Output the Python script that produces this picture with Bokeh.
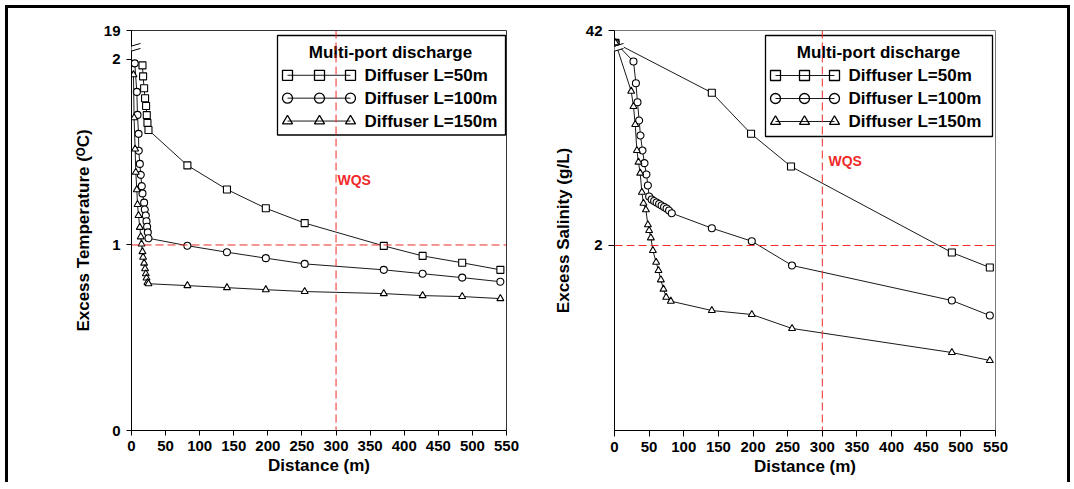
from bokeh.plotting import figure
from bokeh.layouts import row
from bokeh.models import Range1d, FixedTicker, CustomJSTickFormatter, Span, Label, Arrow
from bokeh.core.properties import value
from bokeh.embed import file_html
from bokeh.resources import INLINE

# ---------------- data: excess temperature (left) ----------------
temp_x_50 = [16.1, 17.0, 18.5, 19.9, 21.4, 22.4, 23.4, 24.9, 82, 140, 197, 254, 370, 427, 485, 541]
temp_y_50 = [1.968, 1.909, 1.845, 1.791, 1.749, 1.700, 1.658, 1.620, 1.429, 1.299, 1.198, 1.118, 0.995, 0.941, 0.904, 0.866]
temp_x_100 = [4.8, 7.8, 8.8, 10.3, 10.7, 12.2, 13.6, 15.1, 16.1, 18.5, 19.5, 21.0, 22.0, 22.9, 23.9, 24.9,
              82, 140, 197, 254, 370, 427, 485, 541]
temp_y_100 = [1.979, 1.825, 1.701, 1.599, 1.508, 1.437, 1.378, 1.317, 1.278, 1.228, 1.191, 1.159, 1.128, 1.098,
              1.068, 1.036, 0.996, 0.961, 0.929, 0.898, 0.866, 0.845, 0.824, 0.802]
temp_x_150 = [2.9, 3.8, 5.3, 6.3, 7.8, 8.8, 10.3, 12.2, 13.6, 14.7, 16.1, 17.0, 18.5, 19.9, 21.0, 22.0, 23.4, 24.9,
              82, 140, 197, 254, 370, 427, 485, 541]
temp_y_150 = [1.918, 1.686, 1.517, 1.392, 1.298, 1.218, 1.159, 1.095, 1.044, 1.005, 0.964, 0.934, 0.902, 0.872,
              0.845, 0.822, 0.798, 0.791, 0.781, 0.770, 0.759, 0.749, 0.738, 0.727, 0.722, 0.711]

# ---------------- data: excess salinity (right) ----------------
sal_x_50 = [1.5, 140.5, 197.1, 254.8, 487, 541.8]
sal_y_50 = [4.19, 3.651, 3.208, 2.854, 1.924, 1.762]
sal_x_100 = [1.5, 27.4, 30.9, 33.2, 35.6, 37.5, 40.4, 43.3, 46.1, 48.2, 50.0, 53.6, 57.2, 60.8, 64.4, 68.0,
             71.6, 75.2, 78.8, 82.7, 140.5, 198.2, 256.3, 487, 541.8]
sal_y_100 = [4.19, 3.989, 3.754, 3.549, 3.351, 3.189, 3.027, 2.890, 2.768, 2.649, 2.530, 2.497, 2.481, 2.465,
             2.449, 2.432, 2.416, 2.400, 2.378, 2.349, 2.187, 2.046, 1.784, 1.405, 1.243]
sal_x_150 = [1.5, 24.1, 27.4, 29.9, 32.3, 34.6, 37.1, 39.5, 41.8, 45.3, 48.2, 50.0, 52.5, 55.4, 60.1, 63.5,
             66.9, 70.7, 74.6, 81.3, 140.5, 198.2, 256.3, 487, 541.8]
sal_y_150 = [4.19, 3.668, 3.503, 3.308, 3.027, 2.901, 2.782, 2.576, 2.457, 2.386, 2.224, 2.162, 2.083, 1.946,
             1.819, 1.730, 1.629, 1.528, 1.441, 1.398, 1.297, 1.254, 1.103, 0.843, 0.757]

series_labels = ["Diffuser L=50m", "Diffuser L=100m", "Diffuser L=150m"]
series_markers = ["square", "circle", "triangle"]
legend_title = "Multi-port discharge"
x_ticks = [0, 50, 100, 150, 200, 250, 300, 350, 400, 450, 500, 550]
temp_ticks = [0, 1, 2]
temp_top, temp_top_label = 2.156, "19"
sal_ticks = [2]
sal_top, sal_top_label = 4.324, "42"
wqs_distance = 300
temp_wqs, sal_wqs = 1, 2

FONT = "Liberation Sans"
RED = "#ee2a2a"
LINE = "#1a1a1a"
ORIGIN = 8          # page offset of the figures (5px margin + 3px frame)
FIG_H = 474


def make_panel(width, mbl, mbr, fx0, fx1, fy0, fy1, ytop, yticks, top_label, ylabel, lstand, tick_out,
               outline, series, wqs_y, legend_px, wqs_px):
    mbt = fy0 - ORIGIN
    p = figure(width=width, height=FIG_H, output_backend="svg", toolbar_location=None,
               x_range=Range1d(0, 550), y_range=Range1d(0, ytop),
               min_border_left=mbl, min_border_right=mbr, min_border_top=mbt,
               min_border_bottom=FIG_H - mbt - (fy1 - fy0))
    p.background_fill_color = "white"
    p.border_fill_color = "white"
    p.outline_line_color = outline
    p.outline_line_width = 1
    p.xgrid.visible = False
    p.ygrid.visible = False

    # px -> data helpers (for decorations only)
    def dx(px):
        return (px - fx0) / (fx1 - fx0) * 550

    def dy(py):
        return (fy1 - py) / (fy1 - fy0) * ytop

    for ax in (p.xaxis[0], p.yaxis[0]):
        ax.axis_label_text_font = FONT
        ax.axis_label_text_font_style = "bold"
        ax.axis_label_text_font_size = "17px"
        ax.axis_label_text_color = "black"
        ax.major_label_text_font = FONT
        ax.major_label_text_font_style = "bold"
        ax.major_label_text_font_size = "15px"
        ax.major_label_text_color = "black"
        ax.major_tick_in = 0
        ax.major_tick_out = tick_out
        ax.minor_tick_line_color = None
        ax.axis_line_color = "black"
        ax.major_tick_line_color = "black"

    p.xaxis.ticker = FixedTicker(ticks=x_ticks)
    p.xaxis.axis_label = "Distance (m)"
    p.xaxis.major_label_standoff = 5
    p.xaxis.axis_label_standoff = 2

    p.yaxis.ticker = FixedTicker(ticks=yticks + [ytop])
    p.yaxis.formatter = CustomJSTickFormatter(args=dict(top=ytop, lab=top_label),
                                              code="return (Math.abs(tick - top) < 1e-6) ? lab : tick.toFixed(0);")
    p.yaxis.axis_label = ylabel
    p.yaxis.major_label_standoff = 6
    p.yaxis.axis_label_standoff = lstand

    # data series
    for (xs, ys), mk in zip(series, series_markers):
        p.line(xs, ys, line_color=LINE, line_width=1)
        p.scatter(xs, ys, marker=mk, size=7, fill_color="white", line_color="black", line_width=1.1)

    # legend box (drawn by hand so each sample shows three markers)
    lx0, lx1, ly0, ly1, mxs, tx, tcx, rows, ty = legend_px
    p.quad(left=dx(lx0), right=dx(lx1), top=dy(ly0), bottom=dy(ly1), fill_color="white",
           line_color="black", line_width=1.3)
    p.text(x=[dx(tcx)], y=[dy(ty)], text=[legend_title], text_font=value(FONT), text_font_style="bold",
           text_font_size="17px", text_align="center", text_baseline="middle", text_color="black")
    for mk, lab, ry in zip(series_markers, series_labels, rows):
        p.line([dx(mxs[0]), dx(mxs[-1])], [dy(ry), dy(ry)], line_color=LINE, line_width=1)
        p.scatter([dx(m) for m in mxs], [dy(ry)] * 3, marker=mk, size=10, fill_color=None,
                  line_color="black", line_width=1.3)
        p.text(x=[dx(tx)], y=[dy(ry)], text=[lab], text_font=value(FONT), text_font_style="bold",
               text_font_size="17px", text_align="left", text_baseline="middle", text_color="black")

    # water quality standard lines
    p.add_layout(Span(location=wqs_distance, dimension="height", line_color=RED, line_width=1,
                      line_dash="8 4"))
    p.add_layout(Span(location=wqs_y, dimension="width", line_color=RED, line_width=1, line_dash="8 4"))
    wx, wy = wqs_px
    p.add_layout(Label(x=dx(wx), y=dy(wy), text="WQS", text_font=FONT, text_font_style="bold",
                       text_font_size="14px", text_color=RED, text_baseline="middle", text_align="left"))

    # axis break marks
    bx0, bx1 = fx0 - 8, fx0 + 9
    for (ya, yb, col, w) in [(50.5, 45.5, "white", 4), (48, 43, "black", 1), (53, 48, "black", 1)]:
        p.add_layout(Arrow(start=None, end=None, x_start=dx(bx0), y_start=dy(ya), x_end=dx(bx1), y_end=dy(yb),
                           line_color=col, line_width=w))
    return p


left = make_panel(542, 123, 44, 131, 506, 30, 432, temp_top, temp_ticks, temp_top_label,
                  "Excess Temperature (\u1d3cC)", 8, 5, "#333333",
                  [(temp_x_50, temp_y_50), (temp_x_100, temp_y_100), (temp_x_150, temp_y_150)], temp_wqs,
                  (277, 505, 35, 135, [287, 319, 350], 364, 390, [75, 98, 121], 52), (337, 180))

right = make_panel(517, 64, 72, 614, 995, 30, 430, sal_top, sal_ticks, sal_top_label,
                   "Excess Salinity (g/L)", 10, 6, "#777777",
                   [(sal_x_50, sal_y_50), (sal_x_100, sal_y_100), (sal_x_150, sal_y_150)], sal_wqs,
                   (765, 992, 35, 136, [775, 804, 834], 848, 878, [75, 98, 121], 52), (828, 160))

layout = row(left, right, styles={"margin-left": "5px", "margin-top": "5px",
                                  "border-top": "3px solid black", "border-left": "3px solid black",
                                  "border-right": "3px solid black"})

open("out.html", "w").write(file_html(layout, INLINE))
